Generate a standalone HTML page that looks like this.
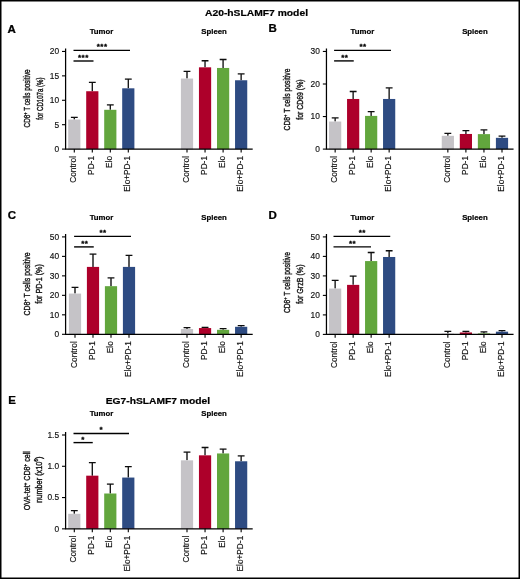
<!DOCTYPE html>
<html lang="en"><head><meta charset="utf-8"><title>Figure</title>
<style>
html,body{margin:0;padding:0;background:#fff;}
body{width:520px;height:579px;overflow:hidden;}
svg{display:block;position:absolute;left:0;top:0;will-change:transform;}
svg text{font-family:"Liberation Sans",Arial,Helvetica,sans-serif;}
</style></head><body>
<svg width="520" height="579" viewBox="0 0 520 579">
<defs><filter id="soft" x="0" y="0" width="520" height="579" filterUnits="userSpaceOnUse"><feGaussianBlur stdDeviation="0.35"/></filter></defs>
<rect x="0" y="0" width="520" height="579" fill="#fff"/>
<g filter="url(#soft)">
<text transform="translate(7.6 32.5) scale(1.15 1)" font-size="10" font-weight="bold" stroke="#000" stroke-width="0.25">A</text>
<text x="101.50" y="34" font-size="7.8" font-weight="bold" stroke="#000" stroke-width="0.2" text-anchor="middle">Tumor</text>
<text x="214.10" y="34" font-size="7.8" font-weight="bold" stroke="#000" stroke-width="0.2" text-anchor="middle">Spleen</text>
<path d="M74.30 119.56V117.36M70.90 117.36H77.70" stroke="#0a0a0a" stroke-width="1.3" fill="none"/>
<rect x="68.20" y="119.56" width="12.2" height="29.54" fill="#c5c3c7"/>
<path d="M92.30 91.24V82.45M88.90 82.45H95.70" stroke="#0a0a0a" stroke-width="1.3" fill="none"/>
<rect x="86.20" y="91.24" width="12.2" height="57.86" fill="#ad052a"/>
<path d="M110.30 109.80V104.91M106.90 104.91H113.70" stroke="#0a0a0a" stroke-width="1.3" fill="none"/>
<rect x="104.20" y="109.80" width="12.2" height="39.30" fill="#62a63d"/>
<path d="M128.30 88.31V79.04M124.90 79.04H131.70" stroke="#0a0a0a" stroke-width="1.3" fill="none"/>
<rect x="122.20" y="88.31" width="12.2" height="60.79" fill="#2d4b82"/>
<path d="M187.00 78.55V71.47M183.60 71.47H190.40" stroke="#0a0a0a" stroke-width="1.3" fill="none"/>
<rect x="180.90" y="78.55" width="12.2" height="70.55" fill="#c5c3c7"/>
<path d="M205.05 67.32V60.73M201.65 60.73H208.45" stroke="#0a0a0a" stroke-width="1.3" fill="none"/>
<rect x="198.95" y="67.32" width="12.2" height="81.78" fill="#ad052a"/>
<path d="M223.10 67.95V59.51M219.70 59.51H226.50" stroke="#0a0a0a" stroke-width="1.3" fill="none"/>
<rect x="217.00" y="67.95" width="12.2" height="81.15" fill="#62a63d"/>
<path d="M241.15 80.26V73.91M237.75 73.91H244.55" stroke="#0a0a0a" stroke-width="1.3" fill="none"/>
<rect x="235.05" y="80.26" width="12.2" height="68.84" fill="#2d4b82"/>
<path d="M65.60 48.45V149.70M65.00 149.10H252.70" stroke="#000" stroke-width="1.25" fill="none"/>
<path d="M62.00 149.10H65.60" stroke="#000" stroke-width="1.1"/>
<text x="59.10" y="152.00" font-size="8.4" text-anchor="end" fill="#111" stroke="#111" stroke-width="0.15">0</text>
<path d="M62.00 124.69H65.60" stroke="#000" stroke-width="1.1"/>
<text x="59.10" y="127.59" font-size="8.4" text-anchor="end" fill="#111" stroke="#111" stroke-width="0.15">5</text>
<path d="M62.00 100.28H65.60" stroke="#000" stroke-width="1.1"/>
<text x="59.10" y="103.18" font-size="8.4" text-anchor="end" fill="#111" stroke="#111" stroke-width="0.15">10</text>
<path d="M62.00 75.86H65.60" stroke="#000" stroke-width="1.1"/>
<text x="59.10" y="78.76" font-size="8.4" text-anchor="end" fill="#111" stroke="#111" stroke-width="0.15">15</text>
<path d="M62.00 51.45H65.60" stroke="#000" stroke-width="1.1"/>
<text x="59.10" y="54.35" font-size="8.4" text-anchor="end" fill="#111" stroke="#111" stroke-width="0.15">20</text>
<path d="M74.30 149.10V152.50" stroke="#000" stroke-width="1.1"/>
<text transform="translate(76.30 156.00) rotate(-90)" font-size="8.3" text-anchor="end" fill="#111" stroke="#111" stroke-width="0.15">Control</text>
<path d="M92.30 149.10V152.50" stroke="#000" stroke-width="1.1"/>
<text transform="translate(94.30 156.00) rotate(-90)" font-size="8.3" text-anchor="end" fill="#111" stroke="#111" stroke-width="0.15">PD-1</text>
<path d="M110.30 149.10V152.50" stroke="#000" stroke-width="1.1"/>
<text transform="translate(112.30 156.00) rotate(-90)" font-size="8.3" text-anchor="end" fill="#111" stroke="#111" stroke-width="0.15">Elo</text>
<path d="M128.30 149.10V152.50" stroke="#000" stroke-width="1.1"/>
<text transform="translate(130.30 156.00) rotate(-90)" font-size="8.3" text-anchor="end" fill="#111" stroke="#111" stroke-width="0.15">Elo+PD-1</text>
<path d="M187.00 149.10V152.50" stroke="#000" stroke-width="1.1"/>
<text transform="translate(189.00 156.00) rotate(-90)" font-size="8.3" text-anchor="end" fill="#111" stroke="#111" stroke-width="0.15">Control</text>
<path d="M205.05 149.10V152.50" stroke="#000" stroke-width="1.1"/>
<text transform="translate(207.05 156.00) rotate(-90)" font-size="8.3" text-anchor="end" fill="#111" stroke="#111" stroke-width="0.15">PD-1</text>
<path d="M223.10 149.10V152.50" stroke="#000" stroke-width="1.1"/>
<text transform="translate(225.10 156.00) rotate(-90)" font-size="8.3" text-anchor="end" fill="#111" stroke="#111" stroke-width="0.15">Elo</text>
<path d="M241.15 149.10V152.50" stroke="#000" stroke-width="1.1"/>
<text transform="translate(243.15 156.00) rotate(-90)" font-size="8.3" text-anchor="end" fill="#111" stroke="#111" stroke-width="0.15">Elo+PD-1</text>
<path d="M73.50 50.40H130.00" stroke="#000" stroke-width="1.4"/>
<text x="102.15" y="49.30" font-size="8" font-weight="bold" letter-spacing="0.5" stroke="#000" stroke-width="0.3" text-anchor="middle">***</text>
<path d="M73.50 61.00H93.50" stroke="#000" stroke-width="1.4"/>
<text x="83.35" y="59.90" font-size="8" font-weight="bold" letter-spacing="0.5" stroke="#000" stroke-width="0.3" text-anchor="middle">***</text>
<text transform="translate(30.30 98.40) rotate(-90)" font-size="9" text-anchor="middle" fill="#1a1a1a" stroke="#1a1a1a" stroke-width="0.4" textLength="58" lengthAdjust="spacingAndGlyphs">CD8<tspan dy="-3.2" font-size="5.5">+</tspan><tspan dy="3.2"> T cells positive</tspan></text>
<text transform="translate(42.90 98.60) rotate(-90)" font-size="9" text-anchor="middle" fill="#1a1a1a" stroke="#1a1a1a" stroke-width="0.4" textLength="42.3" lengthAdjust="spacingAndGlyphs">for CD107a (%)</text>
<text transform="translate(268.4 32.3) scale(1.15 1)" font-size="10" font-weight="bold" stroke="#000" stroke-width="0.25">B</text>
<text x="362.35" y="34" font-size="7.8" font-weight="bold" stroke="#000" stroke-width="0.2" text-anchor="middle">Tumor</text>
<text x="474.95" y="34" font-size="7.8" font-weight="bold" stroke="#000" stroke-width="0.2" text-anchor="middle">Spleen</text>
<path d="M335.15 121.56V117.85M331.75 117.85H338.55" stroke="#0a0a0a" stroke-width="1.3" fill="none"/>
<rect x="329.05" y="121.56" width="12.2" height="27.54" fill="#c5c3c7"/>
<path d="M353.15 98.97V91.49M349.75 91.49H356.55" stroke="#0a0a0a" stroke-width="1.3" fill="none"/>
<rect x="347.05" y="98.97" width="12.2" height="50.13" fill="#ad052a"/>
<path d="M371.15 115.90V111.67M367.75 111.67H374.55" stroke="#0a0a0a" stroke-width="1.3" fill="none"/>
<rect x="365.05" y="115.90" width="12.2" height="33.20" fill="#62a63d"/>
<path d="M389.15 98.97V87.91M385.75 87.91H392.55" stroke="#0a0a0a" stroke-width="1.3" fill="none"/>
<rect x="383.05" y="98.97" width="12.2" height="50.13" fill="#2d4b82"/>
<path d="M447.85 135.82V133.31M444.45 133.31H451.25" stroke="#0a0a0a" stroke-width="1.3" fill="none"/>
<rect x="441.75" y="135.82" width="12.2" height="13.28" fill="#c5c3c7"/>
<path d="M465.90 133.96V130.71M462.50 130.71H469.30" stroke="#0a0a0a" stroke-width="1.3" fill="none"/>
<rect x="459.80" y="133.96" width="12.2" height="15.14" fill="#ad052a"/>
<path d="M483.95 134.13V129.90M480.55 129.90H487.35" stroke="#0a0a0a" stroke-width="1.3" fill="none"/>
<rect x="477.85" y="134.13" width="12.2" height="14.97" fill="#62a63d"/>
<path d="M502.00 137.84V136.08M498.60 136.08H505.40" stroke="#0a0a0a" stroke-width="1.3" fill="none"/>
<rect x="495.90" y="137.84" width="12.2" height="11.26" fill="#2d4b82"/>
<path d="M326.45 48.45V149.70M325.85 149.10H513.55" stroke="#000" stroke-width="1.25" fill="none"/>
<path d="M322.85 149.10H326.45" stroke="#000" stroke-width="1.1"/>
<text x="319.95" y="152.00" font-size="8.4" text-anchor="end" fill="#111" stroke="#111" stroke-width="0.15">0</text>
<path d="M322.85 116.55H326.45" stroke="#000" stroke-width="1.1"/>
<text x="319.95" y="119.45" font-size="8.4" text-anchor="end" fill="#111" stroke="#111" stroke-width="0.15">10</text>
<path d="M322.85 84.00H326.45" stroke="#000" stroke-width="1.1"/>
<text x="319.95" y="86.90" font-size="8.4" text-anchor="end" fill="#111" stroke="#111" stroke-width="0.15">20</text>
<path d="M322.85 51.45H326.45" stroke="#000" stroke-width="1.1"/>
<text x="319.95" y="54.35" font-size="8.4" text-anchor="end" fill="#111" stroke="#111" stroke-width="0.15">30</text>
<path d="M335.15 149.10V152.50" stroke="#000" stroke-width="1.1"/>
<text transform="translate(337.15 156.00) rotate(-90)" font-size="8.3" text-anchor="end" fill="#111" stroke="#111" stroke-width="0.15">Control</text>
<path d="M353.15 149.10V152.50" stroke="#000" stroke-width="1.1"/>
<text transform="translate(355.15 156.00) rotate(-90)" font-size="8.3" text-anchor="end" fill="#111" stroke="#111" stroke-width="0.15">PD-1</text>
<path d="M371.15 149.10V152.50" stroke="#000" stroke-width="1.1"/>
<text transform="translate(373.15 156.00) rotate(-90)" font-size="8.3" text-anchor="end" fill="#111" stroke="#111" stroke-width="0.15">Elo</text>
<path d="M389.15 149.10V152.50" stroke="#000" stroke-width="1.1"/>
<text transform="translate(391.15 156.00) rotate(-90)" font-size="8.3" text-anchor="end" fill="#111" stroke="#111" stroke-width="0.15">Elo+PD-1</text>
<path d="M447.85 149.10V152.50" stroke="#000" stroke-width="1.1"/>
<text transform="translate(449.85 156.00) rotate(-90)" font-size="8.3" text-anchor="end" fill="#111" stroke="#111" stroke-width="0.15">Control</text>
<path d="M465.90 149.10V152.50" stroke="#000" stroke-width="1.1"/>
<text transform="translate(467.90 156.00) rotate(-90)" font-size="8.3" text-anchor="end" fill="#111" stroke="#111" stroke-width="0.15">PD-1</text>
<path d="M483.95 149.10V152.50" stroke="#000" stroke-width="1.1"/>
<text transform="translate(485.95 156.00) rotate(-90)" font-size="8.3" text-anchor="end" fill="#111" stroke="#111" stroke-width="0.15">Elo</text>
<path d="M502.00 149.10V152.50" stroke="#000" stroke-width="1.1"/>
<text transform="translate(504.00 156.00) rotate(-90)" font-size="8.3" text-anchor="end" fill="#111" stroke="#111" stroke-width="0.15">Elo+PD-1</text>
<path d="M334.10 50.40H391.00" stroke="#000" stroke-width="1.4"/>
<text x="363.05" y="49.30" font-size="8" font-weight="bold" letter-spacing="0.5" stroke="#000" stroke-width="0.3" text-anchor="middle">**</text>
<path d="M334.10 60.90H353.75" stroke="#000" stroke-width="1.4"/>
<text x="344.85" y="59.80" font-size="8" font-weight="bold" letter-spacing="0.5" stroke="#000" stroke-width="0.3" text-anchor="middle">**</text>
<text transform="translate(290.45 99.50) rotate(-90)" font-size="9" text-anchor="middle" fill="#1a1a1a" stroke="#1a1a1a" stroke-width="0.4" textLength="62" lengthAdjust="spacingAndGlyphs">CD8<tspan dy="-3.2" font-size="5.5">+</tspan><tspan dy="3.2"> T cells positive</tspan></text>
<text transform="translate(302.55 99.60) rotate(-90)" font-size="9" text-anchor="middle" fill="#1a1a1a" stroke="#1a1a1a" stroke-width="0.4" textLength="40.4" lengthAdjust="spacingAndGlyphs">for CD69 (%)</text>
<text transform="translate(7.8 218.5) scale(1.15 1)" font-size="10" font-weight="bold" stroke="#000" stroke-width="0.25">C</text>
<text x="101.50" y="219.8" font-size="7.8" font-weight="bold" stroke="#000" stroke-width="0.2" text-anchor="middle">Tumor</text>
<text x="214.10" y="219.8" font-size="7.8" font-weight="bold" stroke="#000" stroke-width="0.2" text-anchor="middle">Spleen</text>
<path d="M75.00 293.59V287.35M71.60 287.35H78.40" stroke="#0a0a0a" stroke-width="1.3" fill="none"/>
<rect x="68.90" y="293.59" width="12.2" height="40.71" fill="#c5c3c7"/>
<path d="M93.00 266.90V254.04M89.60 254.04H96.40" stroke="#0a0a0a" stroke-width="1.3" fill="none"/>
<rect x="86.90" y="266.90" width="12.2" height="67.40" fill="#ad052a"/>
<path d="M111.00 286.18V277.81M107.60 277.81H114.40" stroke="#0a0a0a" stroke-width="1.3" fill="none"/>
<rect x="104.90" y="286.18" width="12.2" height="48.12" fill="#62a63d"/>
<path d="M129.00 266.90V255.41M125.60 255.41H132.40" stroke="#0a0a0a" stroke-width="1.3" fill="none"/>
<rect x="122.90" y="266.90" width="12.2" height="67.40" fill="#2d4b82"/>
<path d="M187.00 329.04V327.68M183.60 327.68H190.40" stroke="#0a0a0a" stroke-width="1.3" fill="none"/>
<rect x="180.90" y="329.04" width="12.2" height="5.26" fill="#c5c3c7"/>
<path d="M205.05 328.07V327.38M201.65 327.38H208.45" stroke="#0a0a0a" stroke-width="1.3" fill="none"/>
<rect x="198.95" y="328.07" width="12.2" height="6.23" fill="#ad052a"/>
<path d="M223.10 329.82V328.65M219.70 328.65H226.50" stroke="#0a0a0a" stroke-width="1.3" fill="none"/>
<rect x="217.00" y="329.82" width="12.2" height="4.48" fill="#62a63d"/>
<path d="M241.15 326.80V325.53M237.75 325.53H244.55" stroke="#0a0a0a" stroke-width="1.3" fill="none"/>
<rect x="235.05" y="326.80" width="12.2" height="7.50" fill="#2d4b82"/>
<path d="M65.60 233.90V334.90M65.00 334.30H252.70" stroke="#000" stroke-width="1.25" fill="none"/>
<path d="M62.00 334.30H65.60" stroke="#000" stroke-width="1.1"/>
<text x="59.10" y="337.20" font-size="8.4" text-anchor="end" fill="#111" stroke="#111" stroke-width="0.15">0</text>
<path d="M62.00 314.82H65.60" stroke="#000" stroke-width="1.1"/>
<text x="59.10" y="317.72" font-size="8.4" text-anchor="end" fill="#111" stroke="#111" stroke-width="0.15">10</text>
<path d="M62.00 295.34H65.60" stroke="#000" stroke-width="1.1"/>
<text x="59.10" y="298.24" font-size="8.4" text-anchor="end" fill="#111" stroke="#111" stroke-width="0.15">20</text>
<path d="M62.00 275.86H65.60" stroke="#000" stroke-width="1.1"/>
<text x="59.10" y="278.76" font-size="8.4" text-anchor="end" fill="#111" stroke="#111" stroke-width="0.15">30</text>
<path d="M62.00 256.38H65.60" stroke="#000" stroke-width="1.1"/>
<text x="59.10" y="259.28" font-size="8.4" text-anchor="end" fill="#111" stroke="#111" stroke-width="0.15">40</text>
<path d="M62.00 236.90H65.60" stroke="#000" stroke-width="1.1"/>
<text x="59.10" y="239.80" font-size="8.4" text-anchor="end" fill="#111" stroke="#111" stroke-width="0.15">50</text>
<path d="M75.00 334.30V337.70" stroke="#000" stroke-width="1.1"/>
<text transform="translate(77.00 341.20) rotate(-90)" font-size="8.3" text-anchor="end" fill="#111" stroke="#111" stroke-width="0.15">Control</text>
<path d="M93.00 334.30V337.70" stroke="#000" stroke-width="1.1"/>
<text transform="translate(95.00 341.20) rotate(-90)" font-size="8.3" text-anchor="end" fill="#111" stroke="#111" stroke-width="0.15">PD-1</text>
<path d="M111.00 334.30V337.70" stroke="#000" stroke-width="1.1"/>
<text transform="translate(113.00 341.20) rotate(-90)" font-size="8.3" text-anchor="end" fill="#111" stroke="#111" stroke-width="0.15">Elo</text>
<path d="M129.00 334.30V337.70" stroke="#000" stroke-width="1.1"/>
<text transform="translate(131.00 341.20) rotate(-90)" font-size="8.3" text-anchor="end" fill="#111" stroke="#111" stroke-width="0.15">Elo+PD-1</text>
<path d="M187.00 334.30V337.70" stroke="#000" stroke-width="1.1"/>
<text transform="translate(189.00 341.20) rotate(-90)" font-size="8.3" text-anchor="end" fill="#111" stroke="#111" stroke-width="0.15">Control</text>
<path d="M205.05 334.30V337.70" stroke="#000" stroke-width="1.1"/>
<text transform="translate(207.05 341.20) rotate(-90)" font-size="8.3" text-anchor="end" fill="#111" stroke="#111" stroke-width="0.15">PD-1</text>
<path d="M223.10 334.30V337.70" stroke="#000" stroke-width="1.1"/>
<text transform="translate(225.10 341.20) rotate(-90)" font-size="8.3" text-anchor="end" fill="#111" stroke="#111" stroke-width="0.15">Elo</text>
<path d="M241.15 334.30V337.70" stroke="#000" stroke-width="1.1"/>
<text transform="translate(243.15 341.20) rotate(-90)" font-size="8.3" text-anchor="end" fill="#111" stroke="#111" stroke-width="0.15">Elo+PD-1</text>
<path d="M74.10 236.40H131.00" stroke="#000" stroke-width="1.4"/>
<text x="103.05" y="235.30" font-size="8" font-weight="bold" letter-spacing="0.5" stroke="#000" stroke-width="0.3" text-anchor="middle">**</text>
<path d="M74.10 246.90H93.75" stroke="#000" stroke-width="1.4"/>
<text x="84.85" y="245.80" font-size="8" font-weight="bold" letter-spacing="0.5" stroke="#000" stroke-width="0.3" text-anchor="middle">**</text>
<text transform="translate(30.30 284.00) rotate(-90)" font-size="9" text-anchor="middle" fill="#1a1a1a" stroke="#1a1a1a" stroke-width="0.4" textLength="63" lengthAdjust="spacingAndGlyphs">CD8<tspan dy="-3.2" font-size="5.5">+</tspan><tspan dy="3.2"> T cells positive</tspan></text>
<text transform="translate(42.40 284.00) rotate(-90)" font-size="9" text-anchor="middle" fill="#1a1a1a" stroke="#1a1a1a" stroke-width="0.4" textLength="39.7" lengthAdjust="spacingAndGlyphs">for PD-1 (%)</text>
<text transform="translate(268.4 218.6) scale(1.15 1)" font-size="10" font-weight="bold" stroke="#000" stroke-width="0.25">D</text>
<text x="362.35" y="219.8" font-size="7.8" font-weight="bold" stroke="#000" stroke-width="0.2" text-anchor="middle">Tumor</text>
<text x="474.95" y="219.8" font-size="7.8" font-weight="bold" stroke="#000" stroke-width="0.2" text-anchor="middle">Spleen</text>
<path d="M335.15 288.57V280.38M331.75 280.38H338.55" stroke="#0a0a0a" stroke-width="1.3" fill="none"/>
<rect x="329.05" y="288.57" width="12.2" height="45.82" fill="#c5c3c7"/>
<path d="M353.15 284.87V276.09M349.75 276.09H356.55" stroke="#0a0a0a" stroke-width="1.3" fill="none"/>
<rect x="347.05" y="284.87" width="12.2" height="49.53" fill="#ad052a"/>
<path d="M371.15 261.08V252.50M367.75 252.50H374.55" stroke="#0a0a0a" stroke-width="1.3" fill="none"/>
<rect x="365.05" y="261.08" width="12.2" height="73.32" fill="#62a63d"/>
<path d="M389.15 256.99V250.75M385.75 250.75H392.55" stroke="#0a0a0a" stroke-width="1.3" fill="none"/>
<rect x="383.05" y="256.99" width="12.2" height="77.41" fill="#2d4b82"/>
<path d="M447.85 333.62V331.28M444.45 331.28H451.25" stroke="#0a0a0a" stroke-width="1.3" fill="none"/>
<rect x="441.75" y="333.62" width="12.2" height="0.78" fill="#c5c3c7"/>
<path d="M465.90 332.45V331.47M462.50 331.47H469.30" stroke="#0a0a0a" stroke-width="1.3" fill="none"/>
<rect x="459.80" y="332.45" width="12.2" height="1.95" fill="#ad052a"/>
<path d="M483.95 333.42V331.86M480.55 331.86H487.35" stroke="#0a0a0a" stroke-width="1.3" fill="none"/>
<rect x="477.85" y="333.42" width="12.2" height="0.98" fill="#62a63d"/>
<path d="M502.00 331.67V330.69M498.60 330.69H505.40" stroke="#0a0a0a" stroke-width="1.3" fill="none"/>
<rect x="495.90" y="331.67" width="12.2" height="2.73" fill="#2d4b82"/>
<path d="M326.45 233.90V335.00M325.85 334.40H513.55" stroke="#000" stroke-width="1.25" fill="none"/>
<path d="M322.85 334.40H326.45" stroke="#000" stroke-width="1.1"/>
<text x="319.95" y="337.30" font-size="8.4" text-anchor="end" fill="#111" stroke="#111" stroke-width="0.15">0</text>
<path d="M322.85 314.90H326.45" stroke="#000" stroke-width="1.1"/>
<text x="319.95" y="317.80" font-size="8.4" text-anchor="end" fill="#111" stroke="#111" stroke-width="0.15">10</text>
<path d="M322.85 295.40H326.45" stroke="#000" stroke-width="1.1"/>
<text x="319.95" y="298.30" font-size="8.4" text-anchor="end" fill="#111" stroke="#111" stroke-width="0.15">20</text>
<path d="M322.85 275.90H326.45" stroke="#000" stroke-width="1.1"/>
<text x="319.95" y="278.80" font-size="8.4" text-anchor="end" fill="#111" stroke="#111" stroke-width="0.15">30</text>
<path d="M322.85 256.40H326.45" stroke="#000" stroke-width="1.1"/>
<text x="319.95" y="259.30" font-size="8.4" text-anchor="end" fill="#111" stroke="#111" stroke-width="0.15">40</text>
<path d="M322.85 236.90H326.45" stroke="#000" stroke-width="1.1"/>
<text x="319.95" y="239.80" font-size="8.4" text-anchor="end" fill="#111" stroke="#111" stroke-width="0.15">50</text>
<path d="M335.15 334.40V337.80" stroke="#000" stroke-width="1.1"/>
<text transform="translate(337.15 341.30) rotate(-90)" font-size="8.3" text-anchor="end" fill="#111" stroke="#111" stroke-width="0.15">Control</text>
<path d="M353.15 334.40V337.80" stroke="#000" stroke-width="1.1"/>
<text transform="translate(355.15 341.30) rotate(-90)" font-size="8.3" text-anchor="end" fill="#111" stroke="#111" stroke-width="0.15">PD-1</text>
<path d="M371.15 334.40V337.80" stroke="#000" stroke-width="1.1"/>
<text transform="translate(373.15 341.30) rotate(-90)" font-size="8.3" text-anchor="end" fill="#111" stroke="#111" stroke-width="0.15">Elo</text>
<path d="M389.15 334.40V337.80" stroke="#000" stroke-width="1.1"/>
<text transform="translate(391.15 341.30) rotate(-90)" font-size="8.3" text-anchor="end" fill="#111" stroke="#111" stroke-width="0.15">Elo+PD-1</text>
<path d="M447.85 334.40V337.80" stroke="#000" stroke-width="1.1"/>
<text transform="translate(449.85 341.30) rotate(-90)" font-size="8.3" text-anchor="end" fill="#111" stroke="#111" stroke-width="0.15">Control</text>
<path d="M465.90 334.40V337.80" stroke="#000" stroke-width="1.1"/>
<text transform="translate(467.90 341.30) rotate(-90)" font-size="8.3" text-anchor="end" fill="#111" stroke="#111" stroke-width="0.15">PD-1</text>
<path d="M483.95 334.40V337.80" stroke="#000" stroke-width="1.1"/>
<text transform="translate(485.95 341.30) rotate(-90)" font-size="8.3" text-anchor="end" fill="#111" stroke="#111" stroke-width="0.15">Elo</text>
<path d="M502.00 334.40V337.80" stroke="#000" stroke-width="1.1"/>
<text transform="translate(504.00 341.30) rotate(-90)" font-size="8.3" text-anchor="end" fill="#111" stroke="#111" stroke-width="0.15">Elo+PD-1</text>
<path d="M333.50 236.40H390.25" stroke="#000" stroke-width="1.4"/>
<text x="362.25" y="235.30" font-size="8" font-weight="bold" letter-spacing="0.5" stroke="#000" stroke-width="0.3" text-anchor="middle">**</text>
<path d="M333.50 246.90H371.00" stroke="#000" stroke-width="1.4"/>
<text x="352.55" y="245.80" font-size="8" font-weight="bold" letter-spacing="0.5" stroke="#000" stroke-width="0.3" text-anchor="middle">**</text>
<text transform="translate(290.15 282.60) rotate(-90)" font-size="9" text-anchor="middle" fill="#1a1a1a" stroke="#1a1a1a" stroke-width="0.4" textLength="61" lengthAdjust="spacingAndGlyphs">CD8<tspan dy="-3.2" font-size="5.5">+</tspan><tspan dy="3.2"> T cells positive</tspan></text>
<text transform="translate(302.55 284.20) rotate(-90)" font-size="9" text-anchor="middle" fill="#1a1a1a" stroke="#1a1a1a" stroke-width="0.4" textLength="39.5" lengthAdjust="spacingAndGlyphs">for GrzB (%)</text>
<text transform="translate(8.2 403.7) scale(1.15 1)" font-size="10" font-weight="bold" stroke="#000" stroke-width="0.25">E</text>
<text x="101.50" y="416.4" font-size="7.8" font-weight="bold" stroke="#000" stroke-width="0.2" text-anchor="middle">Tumor</text>
<text x="214.10" y="416.4" font-size="7.8" font-weight="bold" stroke="#000" stroke-width="0.2" text-anchor="middle">Spleen</text>
<path d="M74.30 513.83V510.71M70.90 510.71H77.70" stroke="#0a0a0a" stroke-width="1.3" fill="none"/>
<rect x="68.20" y="513.83" width="12.2" height="15.02" fill="#c5c3c7"/>
<path d="M92.30 475.67V462.53M88.90 462.53H95.70" stroke="#0a0a0a" stroke-width="1.3" fill="none"/>
<rect x="86.20" y="475.67" width="12.2" height="53.18" fill="#ad052a"/>
<path d="M110.30 493.50V484.05M106.90 484.05H113.70" stroke="#0a0a0a" stroke-width="1.3" fill="none"/>
<rect x="104.20" y="493.50" width="12.2" height="35.35" fill="#62a63d"/>
<path d="M128.30 477.55V466.60M124.90 466.60H131.70" stroke="#0a0a0a" stroke-width="1.3" fill="none"/>
<rect x="122.20" y="477.55" width="12.2" height="51.30" fill="#2d4b82"/>
<path d="M187.00 460.34V452.21M183.60 452.21H190.40" stroke="#0a0a0a" stroke-width="1.3" fill="none"/>
<rect x="180.90" y="460.34" width="12.2" height="68.51" fill="#c5c3c7"/>
<path d="M205.05 455.33V447.51M201.65 447.51H208.45" stroke="#0a0a0a" stroke-width="1.3" fill="none"/>
<rect x="198.95" y="455.33" width="12.2" height="73.52" fill="#ad052a"/>
<path d="M223.10 453.46V449.08M219.70 449.08H226.50" stroke="#0a0a0a" stroke-width="1.3" fill="none"/>
<rect x="217.00" y="453.46" width="12.2" height="75.39" fill="#62a63d"/>
<path d="M241.15 461.28V455.96M237.75 455.96H244.55" stroke="#0a0a0a" stroke-width="1.3" fill="none"/>
<rect x="235.05" y="461.28" width="12.2" height="67.57" fill="#2d4b82"/>
<path d="M65.60 432.00V529.45M65.00 528.85H252.70" stroke="#000" stroke-width="1.25" fill="none"/>
<path d="M62.00 528.85H65.60" stroke="#000" stroke-width="1.1"/>
<text x="59.10" y="531.75" font-size="8.4" text-anchor="end" fill="#111" stroke="#111" stroke-width="0.15">0</text>
<path d="M62.00 497.57H65.60" stroke="#000" stroke-width="1.1"/>
<text x="59.10" y="500.47" font-size="8.4" text-anchor="end" fill="#111" stroke="#111" stroke-width="0.15">0.5</text>
<path d="M62.00 466.28H65.60" stroke="#000" stroke-width="1.1"/>
<text x="59.10" y="469.18" font-size="8.4" text-anchor="end" fill="#111" stroke="#111" stroke-width="0.15">1.0</text>
<path d="M62.00 435.00H65.60" stroke="#000" stroke-width="1.1"/>
<text x="59.10" y="437.90" font-size="8.4" text-anchor="end" fill="#111" stroke="#111" stroke-width="0.15">1.5</text>
<path d="M74.30 528.85V532.25" stroke="#000" stroke-width="1.1"/>
<text transform="translate(76.30 535.75) rotate(-90)" font-size="8.3" text-anchor="end" fill="#111" stroke="#111" stroke-width="0.15">Control</text>
<path d="M92.30 528.85V532.25" stroke="#000" stroke-width="1.1"/>
<text transform="translate(94.30 535.75) rotate(-90)" font-size="8.3" text-anchor="end" fill="#111" stroke="#111" stroke-width="0.15">PD-1</text>
<path d="M110.30 528.85V532.25" stroke="#000" stroke-width="1.1"/>
<text transform="translate(112.30 535.75) rotate(-90)" font-size="8.3" text-anchor="end" fill="#111" stroke="#111" stroke-width="0.15">Elo</text>
<path d="M128.30 528.85V532.25" stroke="#000" stroke-width="1.1"/>
<text transform="translate(130.30 535.75) rotate(-90)" font-size="8.3" text-anchor="end" fill="#111" stroke="#111" stroke-width="0.15">Elo+PD-1</text>
<path d="M187.00 528.85V532.25" stroke="#000" stroke-width="1.1"/>
<text transform="translate(189.00 535.75) rotate(-90)" font-size="8.3" text-anchor="end" fill="#111" stroke="#111" stroke-width="0.15">Control</text>
<path d="M205.05 528.85V532.25" stroke="#000" stroke-width="1.1"/>
<text transform="translate(207.05 535.75) rotate(-90)" font-size="8.3" text-anchor="end" fill="#111" stroke="#111" stroke-width="0.15">PD-1</text>
<path d="M223.10 528.85V532.25" stroke="#000" stroke-width="1.1"/>
<text transform="translate(225.10 535.75) rotate(-90)" font-size="8.3" text-anchor="end" fill="#111" stroke="#111" stroke-width="0.15">Elo</text>
<path d="M241.15 528.85V532.25" stroke="#000" stroke-width="1.1"/>
<text transform="translate(243.15 535.75) rotate(-90)" font-size="8.3" text-anchor="end" fill="#111" stroke="#111" stroke-width="0.15">Elo+PD-1</text>
<path d="M73.50 433.50H129.00" stroke="#000" stroke-width="1.4"/>
<text x="101.25" y="432.40" font-size="8" font-weight="bold" letter-spacing="0.5" stroke="#000" stroke-width="0.3" text-anchor="middle">*</text>
<path d="M73.50 442.60H92.75" stroke="#000" stroke-width="1.4"/>
<text x="82.95" y="441.50" font-size="8" font-weight="bold" letter-spacing="0.5" stroke="#000" stroke-width="0.3" text-anchor="middle">*</text>
<text transform="translate(29.70 480.70) rotate(-90)" font-size="9" text-anchor="middle" fill="#1a1a1a" stroke="#1a1a1a" stroke-width="0.4" textLength="59.3" lengthAdjust="spacingAndGlyphs">OVA-tet<tspan dy="-3.2" font-size="5.5">+</tspan><tspan dy="3.2"> CD8</tspan><tspan dy="-3.2" font-size="5.5">+</tspan><tspan dy="3.2"> cell</tspan></text>
<text transform="translate(41.60 479.70) rotate(-90)" font-size="9" text-anchor="middle" fill="#1a1a1a" stroke="#1a1a1a" stroke-width="0.4" textLength="46.2" lengthAdjust="spacingAndGlyphs">number (x10<tspan dy="-3.2" font-size="5.5">6</tspan><tspan dy="3.2">)</tspan></text>
<text x="256.5" y="15.5" font-size="9.2" font-weight="bold" stroke="#000" stroke-width="0.2" text-anchor="middle" textLength="103" lengthAdjust="spacingAndGlyphs">A20-hSLAMF7 model</text>
<text x="157.9" y="403.9" font-size="9.2" font-weight="bold" stroke="#000" stroke-width="0.2" text-anchor="middle" textLength="104.5" lengthAdjust="spacingAndGlyphs">EG7-hSLAMF7 model</text>
</g>
<rect x="0.75" y="0.75" width="518.5" height="577.5" fill="none" stroke="#000" stroke-width="1.5"/>
</svg>
</body></html>
